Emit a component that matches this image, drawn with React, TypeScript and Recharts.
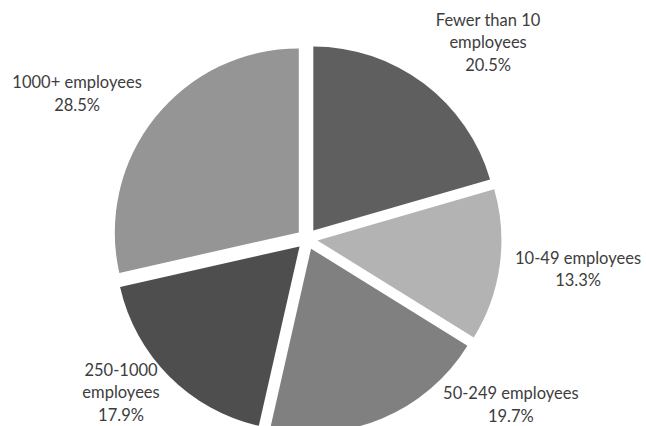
import React from 'react';
import { PieChart, Pie, Cell } from 'recharts';

// ---- data ----
const categories: string[] = [
  'Fewer than 10 employees',
  '10-49 employees',
  '50-249 employees',
  '250-1000 employees',
  '1000+ employees',
];
const shares: number[] = [20.5, 13.3, 19.7, 17.9, 28.5];

// ---- style / layout ----
const colors: string[] = ['#5f5f5f', '#b3b3b3', '#808080', '#4e4e4e', '#959595'];
// label block centre, polar (degrees clockwise from 12 o'clock, px from pie centre)
const labelAngles: number[] = [42.6, 96.3, 129.1, 230.5, 302.3];
const labelDistances: number[] = [267.5, 272.7, 262.7, 241, 272];

const W = 646;
const H = 426;
const CX = 307;
const CY = 239;
const R = 184;
const EXPLODE = 10.5;
const FONT = 16.5;
const LINE_H = 22.5;
const WRAP = 16;

const data = categories.map((name, i) => ({ name, value: shares[i] }));
const total = shares.reduce((a, b) => a + b, 0);
const midAngles: number[] = (() => {
  let acc = 0;
  return shares.map((v) => {
    const start = acc;
    acc += (v / total) * 360;
    return (start + acc) / 2;
  });
})();

const rad = (d: number) => (d * Math.PI) / 180;

function wrap(text: string, max: number): string[] {
  const words = text.split(' ');
  const lines: string[] = [];
  let cur = '';
  words.forEach((w) => {
    const next = cur ? cur + ' ' + w : w;
    if (next.length > max && cur) {
      lines.push(cur);
      cur = w;
    } else {
      cur = next;
    }
  });
  if (cur) lines.push(cur);
  return lines;
}

const renderLabel = (props: any) => {
  const i: number = props.index;
  const a = rad(labelAngles[i]);
  const x = CX + labelDistances[i] * Math.sin(a);
  const yc = CY - labelDistances[i] * Math.cos(a);
  const lines = [...wrap(categories[i], WRAP), shares[i].toFixed(1) + '%'];
  const y0 = yc - ((lines.length - 1) / 2) * LINE_H + FONT * 0.36;
  return (
    <text
      key={'lbl' + i}
      x={x}
      y={y0}
      textAnchor="middle"
      fill="#3d3d3d"
      fontFamily="Lato, 'Noto Sans', sans-serif"
      fontSize={FONT}
    >
      {lines.map((l, k) => (
        <tspan key={k} x={x} dy={k === 0 ? 0 : LINE_H}>
          {l}
        </tspan>
      ))}
    </text>
  );
};

export default function App() {
  return (
    <div style={{ position: 'absolute', left: 0, top: 0, width: W, height: H, background: '#ffffff' }}>
      <PieChart width={W} height={H} margin={{ top: 0, right: 0, bottom: 0, left: 0 }}>
        {categories.map((_, s) => {
          const m = rad(midAngles[s]);
          return (
            <Pie
              key={'pie' + s}
              data={data}
              dataKey="value"
              nameKey="name"
              cx={CX + EXPLODE * Math.sin(m)}
              cy={CY - EXPLODE * Math.cos(m)}
              outerRadius={R}
              innerRadius={0}
              startAngle={90}
              endAngle={-270}
              stroke="none"
              isAnimationActive={false}
              label={s === 0 ? renderLabel : false}
              labelLine={false}
            >
              {data.map((_, j) => (
                <Cell
                  key={'c' + j}
                  fill={colors[j]}
                  fillOpacity={j === s ? 1 : 0}
                  stroke="none"
                />
              ))}
            </Pie>
          );
        })}
      </PieChart>
    </div>
  );
}
